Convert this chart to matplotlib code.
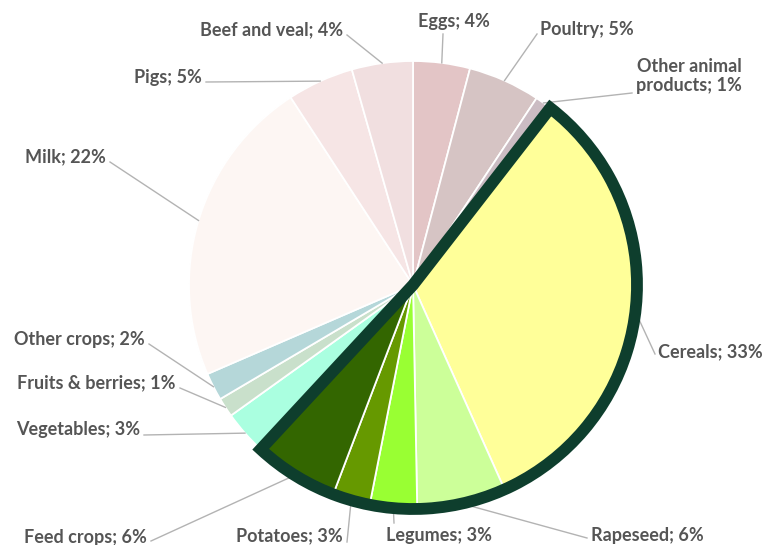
import matplotlib
matplotlib.use("Agg")
import matplotlib.pyplot as plt
from matplotlib.patches import Wedge
import numpy as np

categories = ["Eggs", "Poultry", "Other animal\nproducts", "Cereals", "Rapeseed",
              "Legumes", "Potatoes", "Feed crops", "Vegetables", "Fruits & berries",
              "Other crops", "Milk", "Pigs", "Beef and veal"]
shares = [4.1, 5.2, 1.2, 32.8, 6.4, 3.4, 2.7, 6.1, 3.2, 1.4, 2.0, 22.3, 4.8, 4.4]
colors = ["#e3c5c6", "#d6c4c4", "#cbbcc3", "#ffff99", "#ccff99", "#99ff33",
          "#669900", "#336600", "#aaffe0", "#c9e0cb", "#b5d7d9", "#fdf6f3",
          "#f6e5e5", "#f1dfe0"]
highlight = ["Cereals", "Rapeseed", "Legumes", "Potatoes", "Feed crops"]

W, H = 779, 545
fig = plt.figure(figsize=(W / 100, H / 100), dpi=100)
ax = fig.add_axes([0, 0, 1, 1])
ax.set_xlim(0, W)
ax.set_ylim(0, H)
ax.set_aspect("equal")
ax.axis("off")

cx, cy, R = 413, H - 285, 224
wedges, _ = ax.pie(shares, colors=colors, startangle=90, counterclock=False,
                   center=(cx, cy), radius=R, normalize=True,
                   wedgeprops=dict(edgecolor="white", linewidth=1.3))
ax.set_xlim(0, W)
ax.set_ylim(0, H)

# thick outline around crop group
idx = [categories.index(c) for c in highlight]
t1 = min(wedges[i].theta1 for i in idx)
t2 = max(wedges[i].theta2 for i in idx)
ax.add_patch(Wedge((cx, cy), R, t1, t2, fill=False, edgecolor="#0e3e2d",
                   linewidth=8.5, joinstyle="miter", zorder=5))

# label layout: (text x, text y in px from top, ha, leader start x, leader start y)
layout = {
    "Eggs": (454, 21, "center", 443, 34),
    "Poultry": (540, 29, "left", 537, 34),
    "Other animal\nproducts": (689, 76, "center", 632, 93),
    "Cereals": (658, 352, "left", 655, 354),
    "Rapeseed": (591, 536, "left", 587, 538),
    "Legumes": (386, 536, "left", 394, 523),
    "Potatoes": (343, 536, "right", 347, 542),
    "Feed crops": (147, 537, "right", 151, 541),
    "Vegetables": (140, 430, "right", 144, 435),
    "Fruits & berries": (176, 383, "right", 180, 388),
    "Other crops": (145, 340, "right", 149, 344),
    "Milk": (106, 157, "right", 110, 162),
    "Pigs": (202, 78, "right", 206, 82),
    "Beef and veal": (343, 30, "right", 347, 35),
}

for w, cat, val in zip(wedges, categories, shares):
    tx, ty, ha, lx, ly = layout[cat]
    mid = np.deg2rad((w.theta1 + w.theta2) / 2)
    ax_, ay_ = cx + R * np.cos(mid), cy + R * np.sin(mid)
    ax.plot([lx, ax_], [H - ly, ay_], color="#b3b3b3", lw=1.0, zorder=3)
    ax.text(tx, H - ty, f"{cat}; {round(val)}%", ha=ha, va="center",
            fontsize=13, fontweight="bold", color="#555555", family="Lato",
            multialignment="center", linespacing=1.2)

fig.savefig("out.png", dpi=100)
